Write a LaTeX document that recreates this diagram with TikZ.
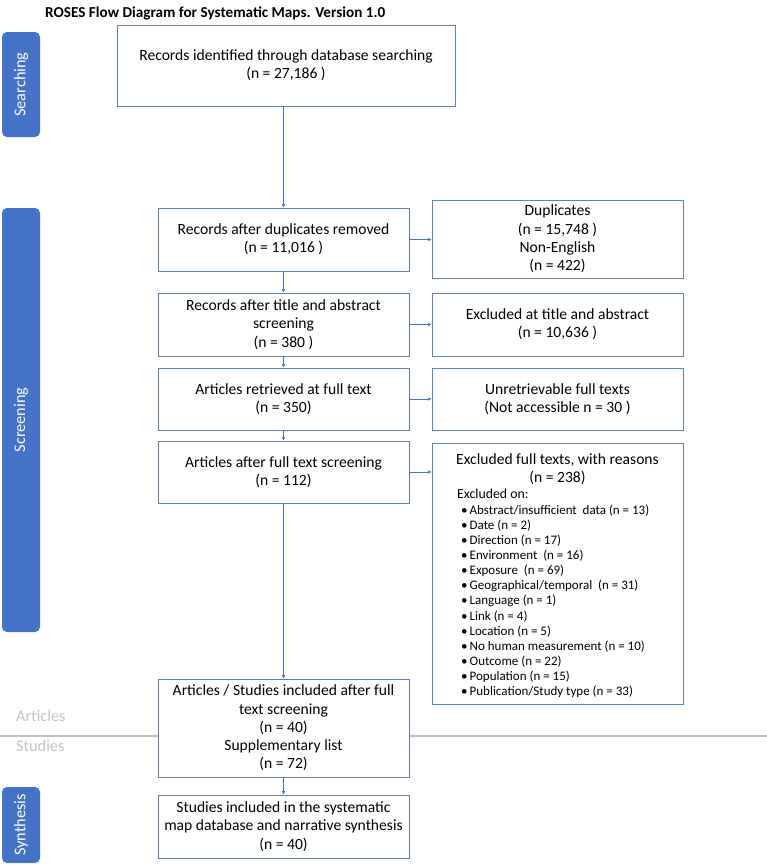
\documentclass[tikz,border=0pt]{standalone}
\usepackage{fontspec}
\setmainfont{Carlito}
\usetikzlibrary{arrows.meta}
\definecolor{barblue}{HTML}{4472C4}
\definecolor{lineblue}{HTML}{4472C4}
\definecolor{boxline}{HTML}{5B7FBF}
\definecolor{sepgray}{HTML}{BEBEBE}
\definecolor{labgray}{HTML}{C4C4C4}
\newcommand{\bigtxt}{\fontsize{15.6}{18.3}\selectfont}
\newcommand{\bartxt}{\fontsize{16.3}{19}\selectfont}
\newcommand{\smalltxt}{\fontsize{13}{15}\selectfont}
\begin{document}
\begin{tikzpicture}[x=1pt,y=-1pt,
  box/.style={draw=boxline, line width=0.8pt, fill=white, inner sep=0pt, align=center, font=\bigtxt},
  bar/.style={fill=barblue, rounded corners=5pt, inner sep=0pt, text=white, rotate=90, font=\bartxt},
  arr/.style={draw=lineblue, line width=0.6pt, -{Latex[length=3.5pt,width=3.5pt]}},
  item/.style={anchor=base west, inner sep=0pt, font=\smalltxt},
  lab/.style={anchor=base west, inner sep=0pt, text=labgray, font=\fontsize{16.3}{19}\selectfont}]
\useasboundingbox (0,0) rectangle (767,865);
% separator line
\coordinate (sepL) at (0,736);
\coordinate (sepR) at (767,736);
\draw[sepgray, line width=2.2pt] (sepL) -- (sepR);
% title
\node[anchor=base west, inner sep=0pt, font=\fontsize{15.2}{17}\selectfont\bfseries] (title) at (45,17) {ROSES Flow Diagram for Systematic Maps. Version 1.0};
% side bars
\node[bar, minimum width=105pt, minimum height=38pt] (barS) at (21,84.5) {Searching};
\node[bar, minimum width=424pt, minimum height=38pt] (barSc) at (21,420) {Screening};
\node[bar, minimum width=76pt, minimum height=38pt] (barSy) at (21,825) {Synthesis};
% labels
\node[lab] (lArt) at (16,721) {Articles};
\node[lab] (lStu) at (16,751) {Studies};
% main column
\node[box, minimum width=338pt, minimum height=81pt] (b1) at (286,65.5) {Records identified through database searching\\(n = 27,186 )};
\node[box, minimum width=251pt, minimum height=63pt] (b2) at (283.5,239.5) {Records after duplicates removed\\(n = 11,016 )};
\node[box, minimum width=251pt, minimum height=63pt] (b3) at (283.5,324.5) {Records after title and abstract\\screening\\(n = 380 )};
\node[box, minimum width=251pt, minimum height=62pt] (b4) at (283.5,399) {Articles retrieved at full text\\(n = 350)};
\node[box, minimum width=251pt, minimum height=62pt] (b5) at (283.5,472) {Articles after full text screening\\(n = 112)};
\node[box, minimum width=251pt, minimum height=98pt] (b6) at (283.5,728) {Articles / Studies included after full\\text screening\\(n = 40)\\Supplementary list\\(n = 72)};
\node[box, minimum width=251pt, minimum height=63pt] (b7) at (283.5,826.5) {Studies included in the systematic\\map database and narrative synthesis\\(n = 40)};
% right column
\node[box, minimum width=251pt, minimum height=78pt] (r1) at (557.5,239) {Duplicates\\(n = 15,748 )\\Non-English\\(n = 422)};
\node[box, minimum width=251pt, minimum height=63pt] (r2) at (557.5,324.5) {Excluded at title and abstract\\(n = 10,636 )};
\node[box, minimum width=251pt, minimum height=62pt] (r3) at (557.5,399) {Unretrievable full texts\\(Not accessible n = 30 )};
\node[box, minimum width=251pt, minimum height=261pt] (r4) at (557.5,573.5) {};
\node[anchor=base, inner sep=0pt, font=\bigtxt] (r4t) at (557.5,464) {Excluded full texts, with reasons};
\node[anchor=base, inner sep=0pt, font=\bigtxt] (r4n) at (557.5,482) {(n = 238)};
\node[item, font=\fontsize{13.8}{15}\selectfont] (r4on) at (457,498.5) {Excluded on:};
\foreach \t [count=\i from 0] in {%
  {Abstract/insufficient\ \ data (n = 13)},
  {Date (n = 2)},
  {Direction (n = 17)},
  {Environment\ \ (n = 16)},
  {Exposure\ \ (n = 69)},
  {Geographical/temporal\ \ (n = 31)},
  {Language (n = 1)},
  {Link (n = 4)},
  {Location (n = 5)},
  {No human measurement (n = 10)},
  {Outcome (n = 22)},
  {Population (n = 15)},
  {Publication/Study type (n = 33)}}
  \node[item] (it\i) at (461,{514.5+15.08*\i}) {\textbullet\hspace{2pt}\t};
% connectors
\draw[arr] (b1.south -| b2.north) -- (b2.north);
\draw[arr] (b2.south) -- (b3.north);
\draw[arr] (b3.south) -- (b4.north);
\draw[arr] (b4.south) -- (b5.north);
\draw[arr] (b5.south) -- (b6.north);
\draw[arr] (b6.south) -- (b7.north);
\draw[arr] (b2.east) -- (b2.east -| r1.west);
\draw[arr] (b3.east) -- (b3.east -| r2.west);
\draw[arr] (b4.east) -- (b4.east -| r3.west);
\draw[arr] (b5.east) -- (b5.east -| r4.west);
\end{tikzpicture}
\end{document}
